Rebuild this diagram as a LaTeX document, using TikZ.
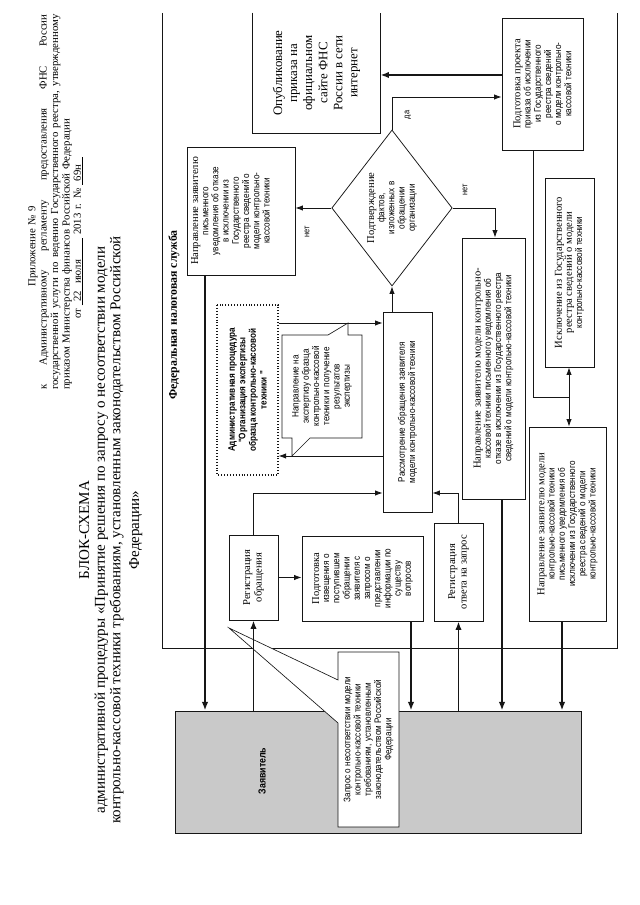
\documentclass[tikz,border=0pt]{standalone}
\usepackage{fontspec}
\setmainfont{Liberation Serif}
\newfontfamily\narrowsans[FakeStretch=0.86]{Liberation Sans}
\usepackage{xcolor}
\definecolor{lineBlack}{HTML}{161616}
\definecolor{applicantFill}{HTML}{C9C9C9}
\usepackage{tikz}
\usetikzlibrary{shapes.geometric,arrows.meta,positioning,calc}
\newcommand{\ux}{0.93pt}
\newcommand{\serifLine}[1]{{\rmfamily\fontsize{9.8}{10.5}\selectfont #1}}
\tikzset{%
  procBox/.style={%
    rectangle,
    draw=lineBlack,
    line width=0.7pt,
    fill=white,
    align=center,
    inner sep=2pt,
    font=\narrowsans\fontsize{8.8}{9.5}\selectfont
  },
  plainText/.style={%
    align=center,
    inner sep=1pt,
    font=\narrowsans\fontsize{8.8}{9.5}\selectfont
  },
  adminBox/.style={%
    procBox,
    dotted,
    line width=1pt,
    font=\narrowsans\bfseries\fontsize{8.8}{9.8}\selectfont
  },
  decisionBox/.style={%
    diamond,
    draw=lineBlack,
    line width=0.7pt,
    fill=white,
    align=center,
    inner sep=0pt,
    font=\narrowsans\fontsize{8.8}{9.5}\selectfont
  },
  applicantBox/.style={%
    rectangle,
    draw=lineBlack,
    line width=0.8pt,
    fill=applicantFill
  },
  noteShape/.style={%
    draw=lineBlack,
    line width=0.6pt,
    fill=white
  },
  frameLine/.style={%
    draw=lineBlack,
    line width=0.9pt
  },
  arrowLine/.style={%
    -{Latex[length=7pt,width=5pt]},
    line width=0.8pt,
    color=lineBlack
  },
  boldArrow/.style={%
    -{Latex[length=8pt,width=6pt]},
    line width=1.6pt,
    color=lineBlack
  },
  branchLabel/.style={%
    inner sep=1pt,
    font=\narrowsans\fontsize{8}{9}\selectfont
  }
}

\begin{document}
\begin{tikzpicture}[x=0.93pt, y=0.93pt]
\useasboundingbox (0,0) rectangle (640,905);
\begin{scope}[shift={(640,0)}, rotate=90, transform shape]

% header and title
\node[anchor=north west, text width=349pt, align=left, inner sep=0pt,
  font=\fontsize{10}{10.6}\selectfont] (header) at (515,612) {%
  \hspace*{96pt}Приложение № 9\\
  к\hfill Административному\hfill регламенту\hfill предоставления\hfill ФНС\hfill России\\
  государственной\hfill услуги\hfill по\hfill ведению\hfill Государственного\hfill реестра,\hfill утвержденному\\
  приказом Министерства финансов Российской Федерации\\
  \hspace*{66pt}от \underline{\ 22\ \ июля\ \ \ \ \ \ }\ 2013 г. № \underline{\ 69н\ \ }};
\node[anchor=north, align=center, inner sep=0pt,
  font=\fontsize{14}{14.5}\selectfont] (title) at (375,561) {%
  БЛОК-СХЕМА\\
  административной процедуры «Принятие решения по запросу о несоответствии модели\\
  контрольно-кассовой техники требованиям, установленным законодательством Российской\\[3pt]
  Федерации»};

% applicant
\node[applicantBox, minimum width=122*\ux, minimum height=406*\ux] (zayav) at (133,262) {};
\node[plainText, font=\narrowsans\bfseries\fontsize{9.5}{10}\selectfont] (zayavLabel) at (134,378) {Заявитель};

% federal tax service
\draw[frameLine] (892,478) -- (257,478) -- (257,23) -- (892,23);
\node[inner sep=0pt, font=\bfseries\fontsize{11}{12}\selectfont] (fnsLabel) at (590,466) {Федеральная налоговая служба};

\node[procBox, draw=none, minimum width=120*\ux, minimum height=127*\ux,
  font=\fontsize{12}{14}\selectfont] (publ) at (832,323.5)
  {Опубликование\\приказа на\\официальном\\сайте ФНС\\России в сети\\интернет};
\draw[frameLine, line width=0.7pt] (publ.north east) -- (publ.north west) -- (publ.south west) -- (publ.south east);

\node[procBox, minimum width=132*\ux, minimum height=81*\ux] (podg) at (821,97.5)
  {\serifLine{Подготовка проекта}\\приказа об исключении\\из Государственного\\реестра сведений\\о модели контрольно-\\кассовой техники};
\node[decisionBox, minimum width=156*\ux, minimum height=120*\ux] (decision) at (697,248)
  {\serifLine{Подтверждение}\\фактов,\\изложенных в\\обращении\\организации};
\node[procBox, minimum width=128*\ux, minimum height=108*\ux] (otkaz) at (694,399) {};
\node[plainText, below=3pt of otkaz.north] (otkazText)
  {\serifLine{Направление заявителю}\\письменного\\уведомления об отказе\\в исключении из\\Государственного\\реестра сведений о\\модели контрольно-\\кассовой техники};
\node[adminBox, minimum width=170*\ux, minimum height=61*\ux] (admin) at (515,392.5)
  {Административная процедура\\"Организация экспертизы\\образца контрольно-кассовой\\техники "};
\node[procBox, minimum width=200*\ux, minimum height=49*\ux] (rassm) at (493,232.5)
  {Рассмотрение обращения заявителя\\модели контрольно-кассовой техники};
\node[procBox, minimum width=261*\ux, minimum height=63*\ux] (otkazModel) at (536.5,146.5)
  {\serifLine{Направление заявителю модели контрольно-}\\кассовой техники письменного уведомления об\\отказе в исключении из Государственного реестра\\сведений о модели контрольно-кассовой техники};
\node[procBox, minimum width=189*\ux, minimum height=49*\ux] (iskl) at (632.5,70.5)
  {\serifLine{Исключение из Государственного}\\\serifLine{реестра сведений о модели}\\контрольно-кассовой техники};
\node[procBox, minimum width=194*\ux, minimum height=77*\ux] (isklNotice) at (381,72.5)
  {\serifLine{Направление заявителю модели}\\контрольно-кассовой техники\\письменного уведомления об\\исключении из Государственного\\реестра сведений о модели\\контрольно-кассовой техники};
\node[procBox, minimum width=85*\ux, minimum height=49*\ux, font=\fontsize{9.8}{10.8}\selectfont] (regZapros) at (327.5,386.5)
  {Регистрация\\обращения};
\node[procBox, minimum width=85*\ux, minimum height=121*\ux] (izv) at (326.5,277.5)
  {\serifLine{Подготовка}\\извещения о\\поступившем\\обращении\\заявителя с\\запросом о\\представлении\\информации по\\существу\\вопросов};
\node[procBox, minimum width=98*\ux, minimum height=49*\ux, font=\fontsize{9.8}{10.8}\selectfont] (regOtvet) at (333,181.5)
  {Регистрация\\ответа на запрос};

% callouts
\draw[noteShape] (467,278) -- (570,278) -- (570,292) -- (582,292) -- (570,312) -- (570,358)
  -- (467,358) -- (467,348) -- (449,348) -- (467,330) -- cycle;
\node[plainText] (expertNote) at (518.5,318)
  {Направление на\\экспертизу образца\\контрольно-кассовой\\техники и получение\\результатов\\экспертизы};
\draw[noteShape] (78,241) -- (253,241) -- (253,302) -- (225,302) -- (277,411) -- (182,302)
  -- (78,302) -- cycle;
\node[plainText] (zaprosNote) at (165.5,271.5)
  {Запрос о несоответствии модели\\контрольно-кассовой техники\\требованиям, установленным\\законодательством Российской\\Федерации};

% connectors
\draw[boldArrow] (zayav.east |- regZapros.west) -- (regZapros.west);
\draw[arrowLine] (regZapros.south) -- (regZapros.south |- izv.north);
\draw[boldArrow] (izv.west |- 0,229) -- (zayav.east |- 0,229);
\draw[boldArrow] (zayav.east |- regOtvet.west) -- (regOtvet.west);
\draw[arrowLine] (regOtvet.east) -| (412,0 |- rassm.south);
\draw[arrowLine] (regZapros.east) -| (412,0 |- rassm.north);
\draw[arrowLine] (582,0 |- admin.south) -- (582,0 |- rassm.north);
\draw[arrowLine] (449,0 |- rassm.north) -- (449,0 |- admin.south);
\draw[arrowLine] (rassm.east |- decision.west) -- (decision.west);
\draw[arrowLine] (decision.north) -- (decision.north |- otkaz.south);
\node[branchLabel] (noLeft) at (673,333) {нет};
\draw[arrowLine] (decision.south) |- (otkazModel.east |- 0,145);
\node[branchLabel] (noRight) at (715,175) {нет};
\draw[arrowLine] (decision.east) -| (808,0 |- podg.north);
\node[branchLabel] (yesLabel) at (790,232) {да};
\draw[boldArrow] (830,0 |- podg.north) -- (830,0 |- publ.south);
\draw[arrowLine, -] (podg.west |- 0,107) -- (508,107) -- (508,71) coordinate (junc);
\draw[arrowLine] (junc) -- (junc -| iskl.west);
\draw[arrowLine] (junc) -- (junc -| isklNotice.east);
\draw[boldArrow] (otkaz.west |- 0,435) -- (zayav.east |- 0,435);
\draw[boldArrow] (otkazModel.west |- 0,138) -- (zayav.east |- 0,138);
\draw[boldArrow] (isklNotice.west |- 0,78) -- (zayav.east |- 0,78);

\end{scope}
\end{tikzpicture}
\end{document}
